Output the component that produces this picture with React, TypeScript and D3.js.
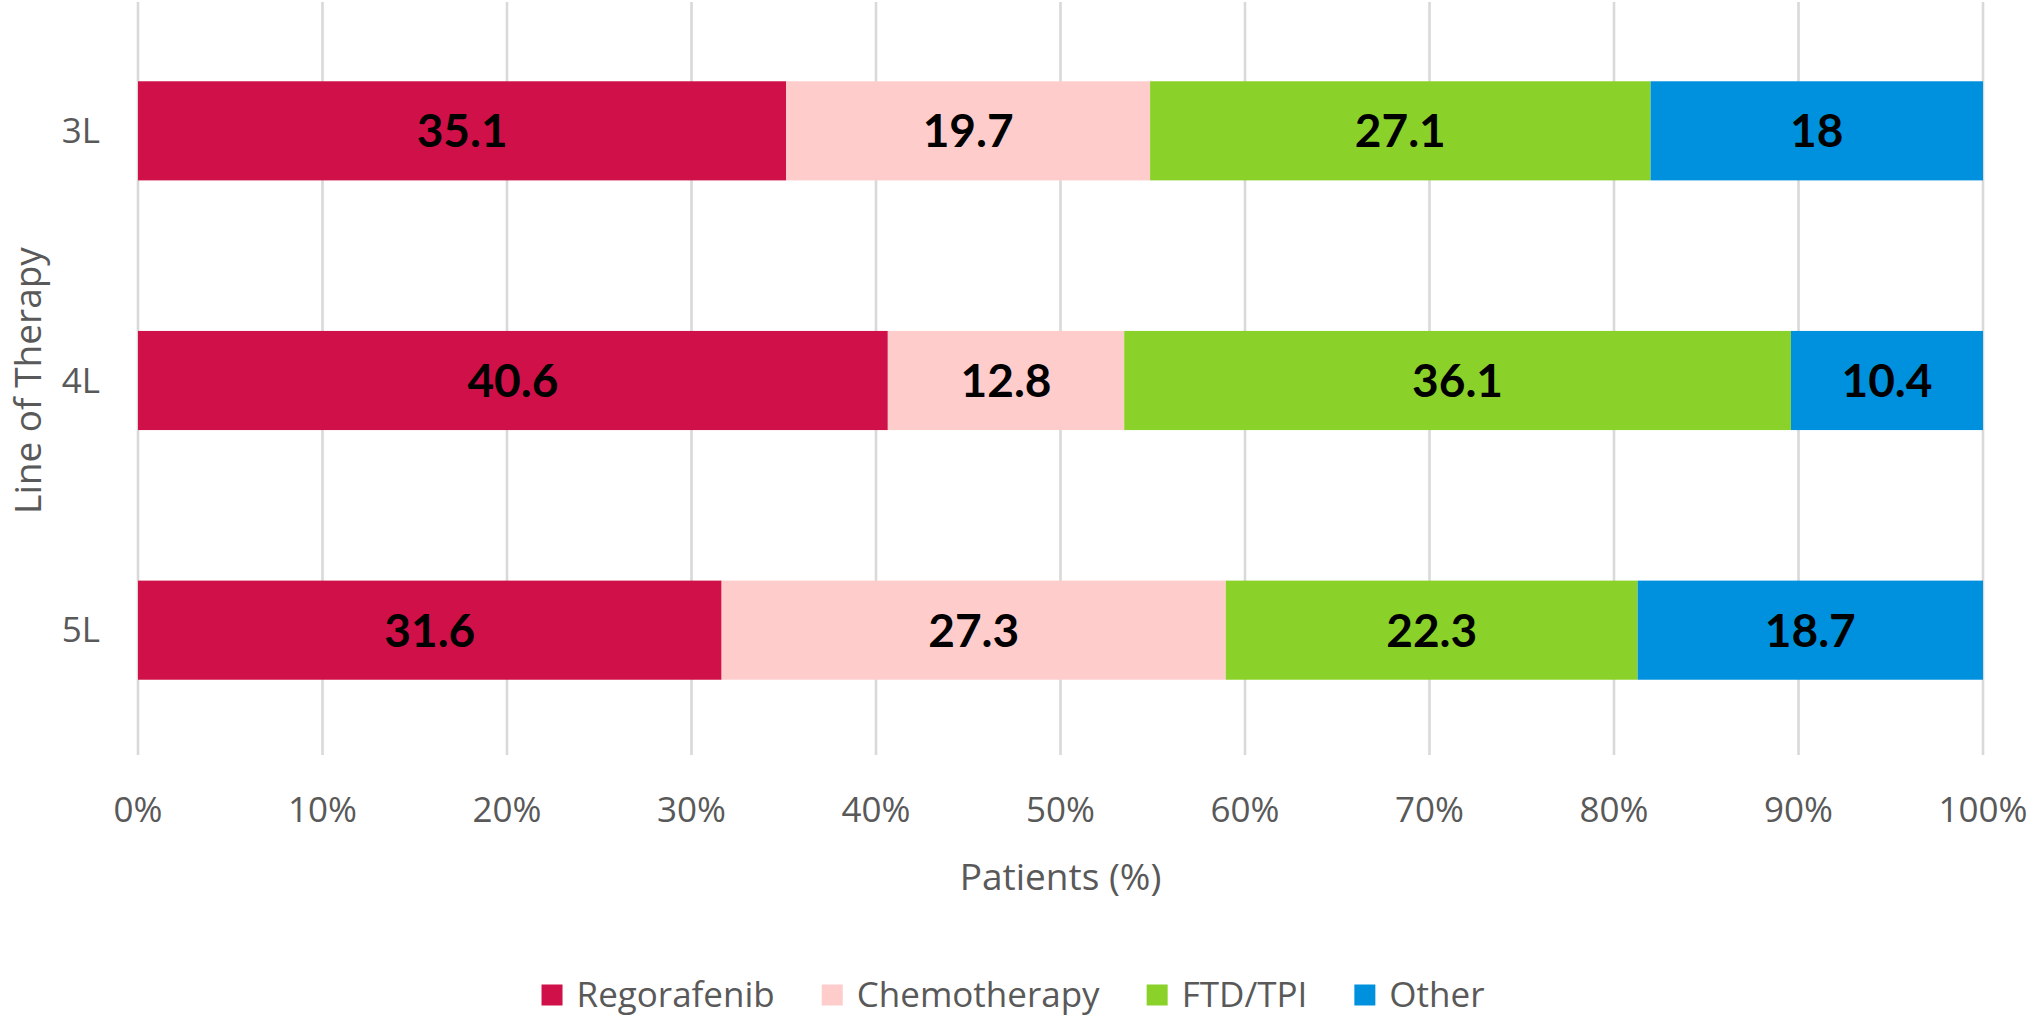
import * as d3 from 'd3';
import { useEffect, useRef } from 'react';

// chart data
const lines = ['3L', '4L', '5L'];
const treatments = ['Regorafenib', 'Chemotherapy', 'FTD/TPI', 'Other'];
const regorafenib = [35.1, 40.6, 31.6];
const chemotherapy = [19.7, 12.8, 27.3];
const ftdTpi = [27.1, 36.1, 22.3];
const other = [18, 10.4, 18.7];
const colors = ['#D01048', '#FFCCCC', '#8AD22A', '#0091DE'];
const ticks = [0, 0.1, 0.2, 0.3, 0.4, 0.5, 0.6, 0.7, 0.8, 0.9, 1];

type Row = { line: string; [k: string]: number | string };

export default function App() {
  const width = 2033;
  const height = 1017;
  const margin = { top: 6, right: 50, bottom: 262, left: 138 };

  const svgRef = useRef<SVGSVGElement>(null);

  useEffect(() => {
    const svg = d3.select(svgRef.current);
    svg.selectAll('*').remove();

    const rows: Row[] = lines.map((line, i) => ({
      line,
      Regorafenib: regorafenib[i],
      Chemotherapy: chemotherapy[i],
      'FTD/TPI': ftdTpi[i],
      Other: other[i],
    }));

    // Excel-style 100% stacking
    const series = d3
      .stack<Row>()
      .keys(treatments)
      .value((d, k) => d[k] as number)
      .offset(d3.stackOffsetExpand)(rows);

    const x = d3
      .scaleLinear()
      .domain([0, 1])
      .range([margin.left, width - margin.right]);

    const y = d3
      .scaleBand()
      .domain(lines)
      .range([margin.top, height - margin.bottom])
      .paddingInner(0.603)
      .paddingOuter(0.3015);

    const color = d3.scaleOrdinal<string, string>().domain(treatments).range(colors);
    const grey = '#595959';
    const font = '"Open Sans", sans-serif';

    // gridlines
    svg
      .append('g')
      .selectAll('line')
      .data(ticks)
      .join('line')
      .attr('x1', (d) => x(d))
      .attr('x2', (d) => x(d))
      .attr('y1', margin.top - 4)
      .attr('y2', height - margin.bottom)
      .attr('stroke', '#D9D9D9')
      .attr('stroke-width', 2.6);

    // x tick labels
    svg
      .append('g')
      .selectAll('text')
      .data(ticks)
      .join('text')
      .attr('x', (d) => x(d))
      .attr('y', height - margin.bottom + 55)
      .attr('dy', '0.35em')
      .attr('text-anchor', 'middle')
      .attr('fill', grey)
      .style('font', `35px ${font}`)
      .text((d) => d3.format('.0%')(d));

    // y tick labels
    svg
      .append('g')
      .selectAll('text')
      .data(lines)
      .join('text')
      .attr('x', margin.left - 38)
      .attr('y', (d) => y(d)! + y.bandwidth() / 2)
      .attr('dy', '0.35em')
      .attr('text-anchor', 'end')
      .attr('fill', grey)
      .style('font', `35px ${font}`)
      .text((d) => d);

    // bars
    const layer = svg
      .append('g')
      .selectAll('g')
      .data(series)
      .join('g')
      .attr('fill', (d) => color(d.key));

    layer
      .selectAll('rect')
      .data((d) => d)
      .join('rect')
      .attr('x', (d) => x(d[0]))
      .attr('width', (d) => x(d[1]) - x(d[0]))
      .attr('y', (d) => y(d.data.line)!)
      .attr('height', y.bandwidth());

    // value labels
    layer
      .selectAll('text')
      .data((d) => d.map((v) => ({ v, key: d.key })))
      .join('text')
      .attr('x', (d) => (x(d.v[0]) + x(d.v[1])) / 2)
      .attr('y', (d) => y(d.v.data.line)! + y.bandwidth() / 2)
      .attr('dy', '0.36em')
      .attr('text-anchor', 'middle')
      .attr('fill', '#000')
      .style('font', '700 46px Lato, "Open Sans", sans-serif')
      .text((d) => String(d.v.data[d.key]));

    // axis titles
    svg
      .append('text')
      .attr('x', (margin.left + width - margin.right) / 2)
      .attr('y', 877)
      .attr('dy', '0.35em')
      .attr('text-anchor', 'middle')
      .attr('fill', grey)
      .style('font', `37px ${font}`)
      .text('Patients (%)');

    svg
      .append('text')
      .attr('transform', `translate(28,${(margin.top + height - margin.bottom) / 2}) rotate(-90)`)
      .attr('dy', '0.35em')
      .attr('text-anchor', 'middle')
      .attr('fill', grey)
      .style('font', `37px ${font}`)
      .text('Line of Therapy');

    // legend, laid out from measured text widths
    const legend = svg.append('g');
    const items = legend
      .selectAll('g')
      .data(treatments)
      .join('g');
    items
      .append('rect')
      .attr('width', 21)
      .attr('height', 21)
      .attr('y', -10.5)
      .attr('fill', (d) => color(d));
    items
      .append('text')
      .attr('x', 35)
      .attr('dy', '0.35em')
      .attr('fill', grey)
      .style('font', `35px ${font}`)
      .text((d) => d);

    const gap = 47;
    const widths = items
      .select<SVGTextElement>('text')
      .nodes()
      .map((n) => 35 + n.getComputedTextLength());
    const total = d3.sum(widths) + gap * (widths.length - 1);
    let cx = 1013 - total / 2;
    items.attr('transform', (_, i) => {
      const t = `translate(${cx},995)`;
      cx += widths[i] + gap;
      return t;
    });
  }, [margin.bottom, margin.left, margin.right, margin.top]);

  return (
    <svg
      ref={svgRef}
      width={width}
      height={height}
      style={{ position: 'absolute', left: 0, top: 0, background: '#fff' }}
    />
  );
}
